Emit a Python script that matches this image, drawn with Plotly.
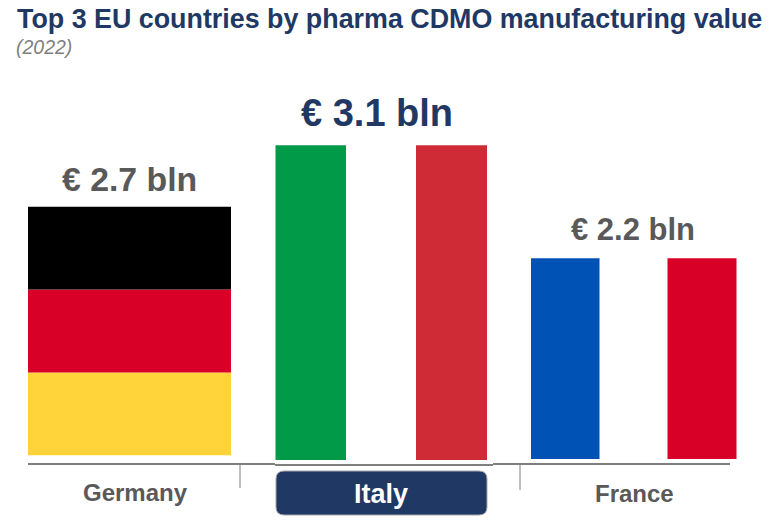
import plotly.graph_objects as go

countries = ["Germany", "Italy", "France"]
value_labels = ["€ 2.7 bln", "€ 3.1 bln", "€ 2.2 bln"]
# drawn heights in chart units (Italy is drawn taller than its label in the source)
germany_stripes = [("#FFD43B", 0.895), ("#D80027", 0.895), ("#000000", 0.895)]
italy_height = 3.40
france_height = 2.17
italy_stripes = [("#009A49", 311), ("#FFFFFF", 381.5), ("#CE2B37", 451.5)]
france_stripes = [("#0052B4", 565.5), ("#FFFFFF", 634), ("#D80027", 702)]
germany_x = 129.5
stripe_width_it = 71
stripe_width_fr = 69

NAVY = "#1F3864"
GREY = "#595959"
AXIS = "#7F7F7F"

fig = go.Figure()
base = 0.05
for color, h in germany_stripes:
    fig.add_bar(x=[germany_x], y=[h], base=[base], width=[203], marker=dict(color=color, line_width=0))
    base += h
for color, cx in italy_stripes:
    fig.add_bar(x=[cx], y=[italy_height], base=[0], width=[stripe_width_it], marker=dict(color=color, line_width=0))
for color, cx in france_stripes:
    fig.add_bar(x=[cx], y=[france_height], base=[0.01], width=[stripe_width_fr], marker=dict(color=color, line_width=0))

def text(x, y, s, size, color, xanchor="center", italic=False, bold=True):
    fig.add_annotation(xref="x", yref="paper", x=x, y=1 - y / 522, text=f"<b>{s}</b>" if bold else (f"<i>{s}</i>" if italic else s),
                       showarrow=False, xanchor=xanchor, yanchor="middle",
                       font=dict(family="Liberation Sans", size=size, color=color))

text(15, 19, "Top 3 EU countries by pharma CDMO manufacturing value", 26.85, NAVY, "left")
text(14, 47, "(2022)", 19.5, "#7F7F7F", "left", italic=True, bold=False)
text(129, 179, value_labels[0], 33.8, GREY)
text(377, 113, value_labels[1], 38, NAVY)
text(633, 230, value_labels[2], 31, GREY)
text(135, 492, countries[0], 24, GREY)
text(381, 494, countries[1], 27, "#FFFFFF")
text(634, 493, countries[2], 24, GREY)

def pshape(kind, x0, x1, y0, y1, **kw):
    fig.add_shape(type=kind, xref="x", yref="paper", x0=x0, x1=x1, y0=1 - y0 / 522, y1=1 - y1 / 522, **kw)

pshape("line", 28, 275, 464, 464, line=dict(color=AXIS, width=2))
pshape("line", 275, 493, 465, 465, line=dict(color=AXIS, width=2))
pshape("line", 493, 730, 464, 464, line=dict(color=AXIS, width=2))
pshape("line", 240, 240, 464, 488, line=dict(color=AXIS, width=1))
pshape("line", 520, 520, 464, 490, line=dict(color=AXIS, width=1))
r = 8
x0, x1, y0, y1 = 276, 487, 1 - 471 / 522, 1 - 515 / 522
rx, ry = r, r / 522
fig.add_shape(type="path", xref="x", yref="paper",
              path=(f"M {x0+rx} {y0} L {x1-rx} {y0} Q {x1} {y0} {x1} {y0-ry} L {x1} {y1+ry} Q {x1} {y1} {x1-rx} {y1} "
                    f"L {x0+rx} {y1} Q {x0} {y1} {x0} {y1+ry} L {x0} {y0-ry} Q {x0} {y0} {x0+rx} {y0} Z"),
              fillcolor=NAVY, line=dict(color="#A6A6A6", width=1), layer="below")

fig.update_layout(
    width=777, height=522, autosize=False, showlegend=False, barmode="overlay",
    margin=dict(l=0, r=0, t=0, b=0), paper_bgcolor="white", plot_bgcolor="white",
    xaxis=dict(range=[0, 777], visible=False, fixedrange=True),
    yaxis=dict(domain=[0, 1], range=[-62 / 92.6, 460 / 92.6], visible=False, fixedrange=True),
)
fig.write_html("out.html", config=dict(displayModeBar=False),
               post_script="document.body.style.margin='0';document.documentElement.style.overflow='hidden';")
